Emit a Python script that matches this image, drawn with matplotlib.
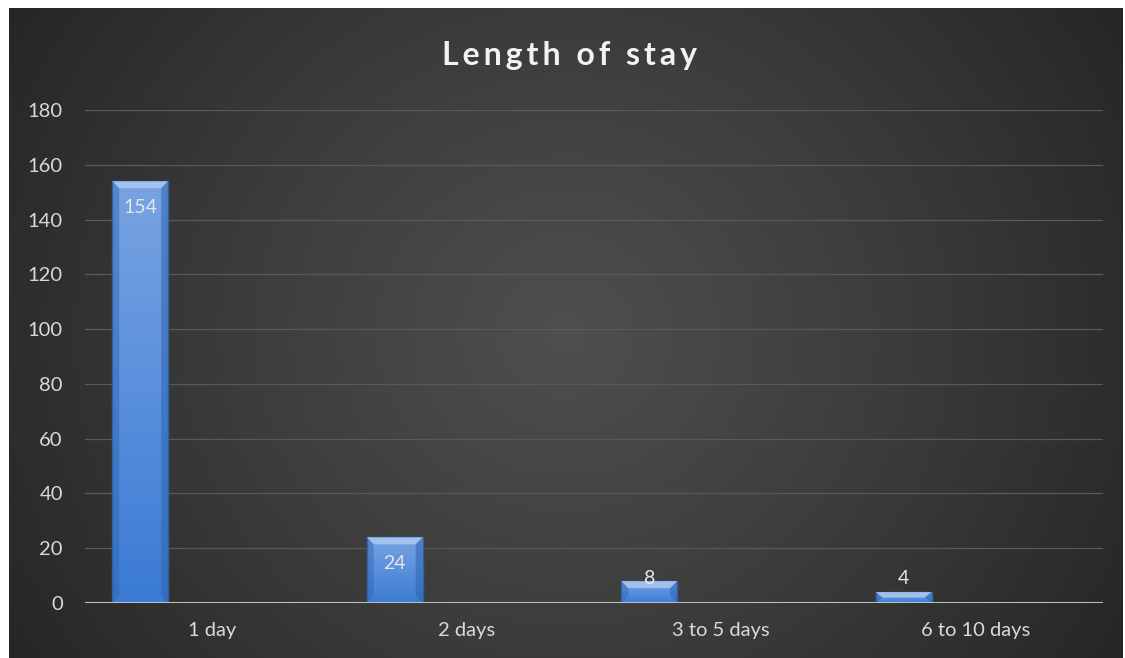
import numpy as np
import matplotlib.pyplot as plt
from matplotlib.patches import Polygon, Rectangle
from matplotlib.colors import LinearSegmentedColormap

categories = ["1 day", "2 days", "3 to 5 days", "6 to 10 days"]
values = [154, 24, 8, 4]
yticks = [0, 20, 40, 60, 80, 100, 120, 140, 160, 180]
title = "Length of stay"

plt.rcParams['font.family'] = ['Lato', 'DejaVu Sans']

W, H = 1125, 658
fig = plt.figure(figsize=(W / 100, H / 100), dpi=100, facecolor="white")

# dark radial background (white strip on top / left like the screenshot)
bg = fig.add_axes([9 / W, 0, (1123 - 9) / W, (658 - 8) / H], zorder=-5)
yy, xx = np.mgrid[0:1:400j, 0:1:700j]
r = np.sqrt(((xx - 0.5) * 1.0) ** 2 + ((yy - 0.5) * 0.62) ** 2) / 0.59
r = np.clip(r, 0, 1)
bgcmap = LinearSegmentedColormap.from_list("bg", ["#4f4f4f", "#3c3c3c", "#262626"])
bg.imshow(r, cmap=bgcmap, aspect="auto", extent=[0, 1, 0, 1], vmin=0, vmax=1)
bg.set_axis_off()

# plot area: x 85..1103, y 110 (180) .. 603 (0)
ax = fig.add_axes([85 / W, (H - 603) / H, (1103 - 85) / W, (603 - 110) / H])
ax.set_facecolor("none")
ax.set_xlim(-0.5, 3.5)
ax.set_ylim(0, 180)

for t in yticks[1:]:
    ax.axhline(t, color="#595959", lw=0.9, zorder=0)
ax.axhline(0, color="#bfbfbf", lw=2.2, zorder=4)

px_x = 254.5   # pixels per category
px_y = 493 / 180  # pixels per unit
barw = 0.22
off = -0.283
bar_cmap = LinearSegmentedColormap.from_list("bar", ["#3b7bd4", "#5a90dc", "#78a3e2"])
grad = np.linspace(0, 1, 100).reshape(-1, 1)

for i, v in enumerate(values):
    x0 = i + off - barw / 2
    x1 = x0 + barw
    ax.imshow(grad, cmap=bar_cmap, aspect="auto", extent=[x0, x1, 0, v],
              origin="lower", zorder=2, interpolation="bilinear")
    ax.add_patch(Rectangle((x0, 0), barw, v, fill=False, ec="#2f5f9e", lw=1.0, zorder=3))
    # bevel
    bx = 7 / px_x
    by = min(7 / px_y, v / 2)
    ax.add_patch(Polygon([(x0, v), (x1, v), (x1 - bx, v - by), (x0 + bx, v - by)],
                         closed=True, fc="#a8c6ef", ec="none", alpha=0.9, zorder=3))
    ax.add_patch(Polygon([(x0, v), (x0 + bx, v - by), (x0 + bx, by), (x0, 0)],
                         closed=True, fc="#2e64b0", ec="none", alpha=0.45, zorder=3))
    ax.add_patch(Polygon([(x1, v), (x1 - bx, v - by), (x1 - bx, by), (x1, 0)],
                         closed=True, fc="#2e64b0", ec="none", alpha=0.55, zorder=3))
    ly = max(v - 26 / px_y, 25 / px_y)
    ax.text(i + off, ly, str(v), ha="center", va="center", color="#e6e6e6",
            fontsize=14, zorder=5)

ax.set_xticks(range(len(categories)))
ax.set_xticklabels(categories)
ax.set_yticks(yticks)
ax.tick_params(axis="both", length=0, colors="#d9d9d9", labelsize=14.5)
ax.tick_params(axis="x", pad=14)
ax.tick_params(axis="y", pad=16)
for lbl in ax.get_yticklabels():
    lbl.set_horizontalalignment("right")
for s in ax.spines.values():
    s.set_visible(False)

spaced = " ".join("\u2009".join(w) for w in title.split(" ")).replace(" ", "\u2009 \u2009")
fig.text(569 / W, 1 - 56 / H, spaced,
         ha="center", va="center", color="#f2f2f2", fontsize=23, fontweight="bold")

fig.savefig("out.png", dpi=100, facecolor="white")
